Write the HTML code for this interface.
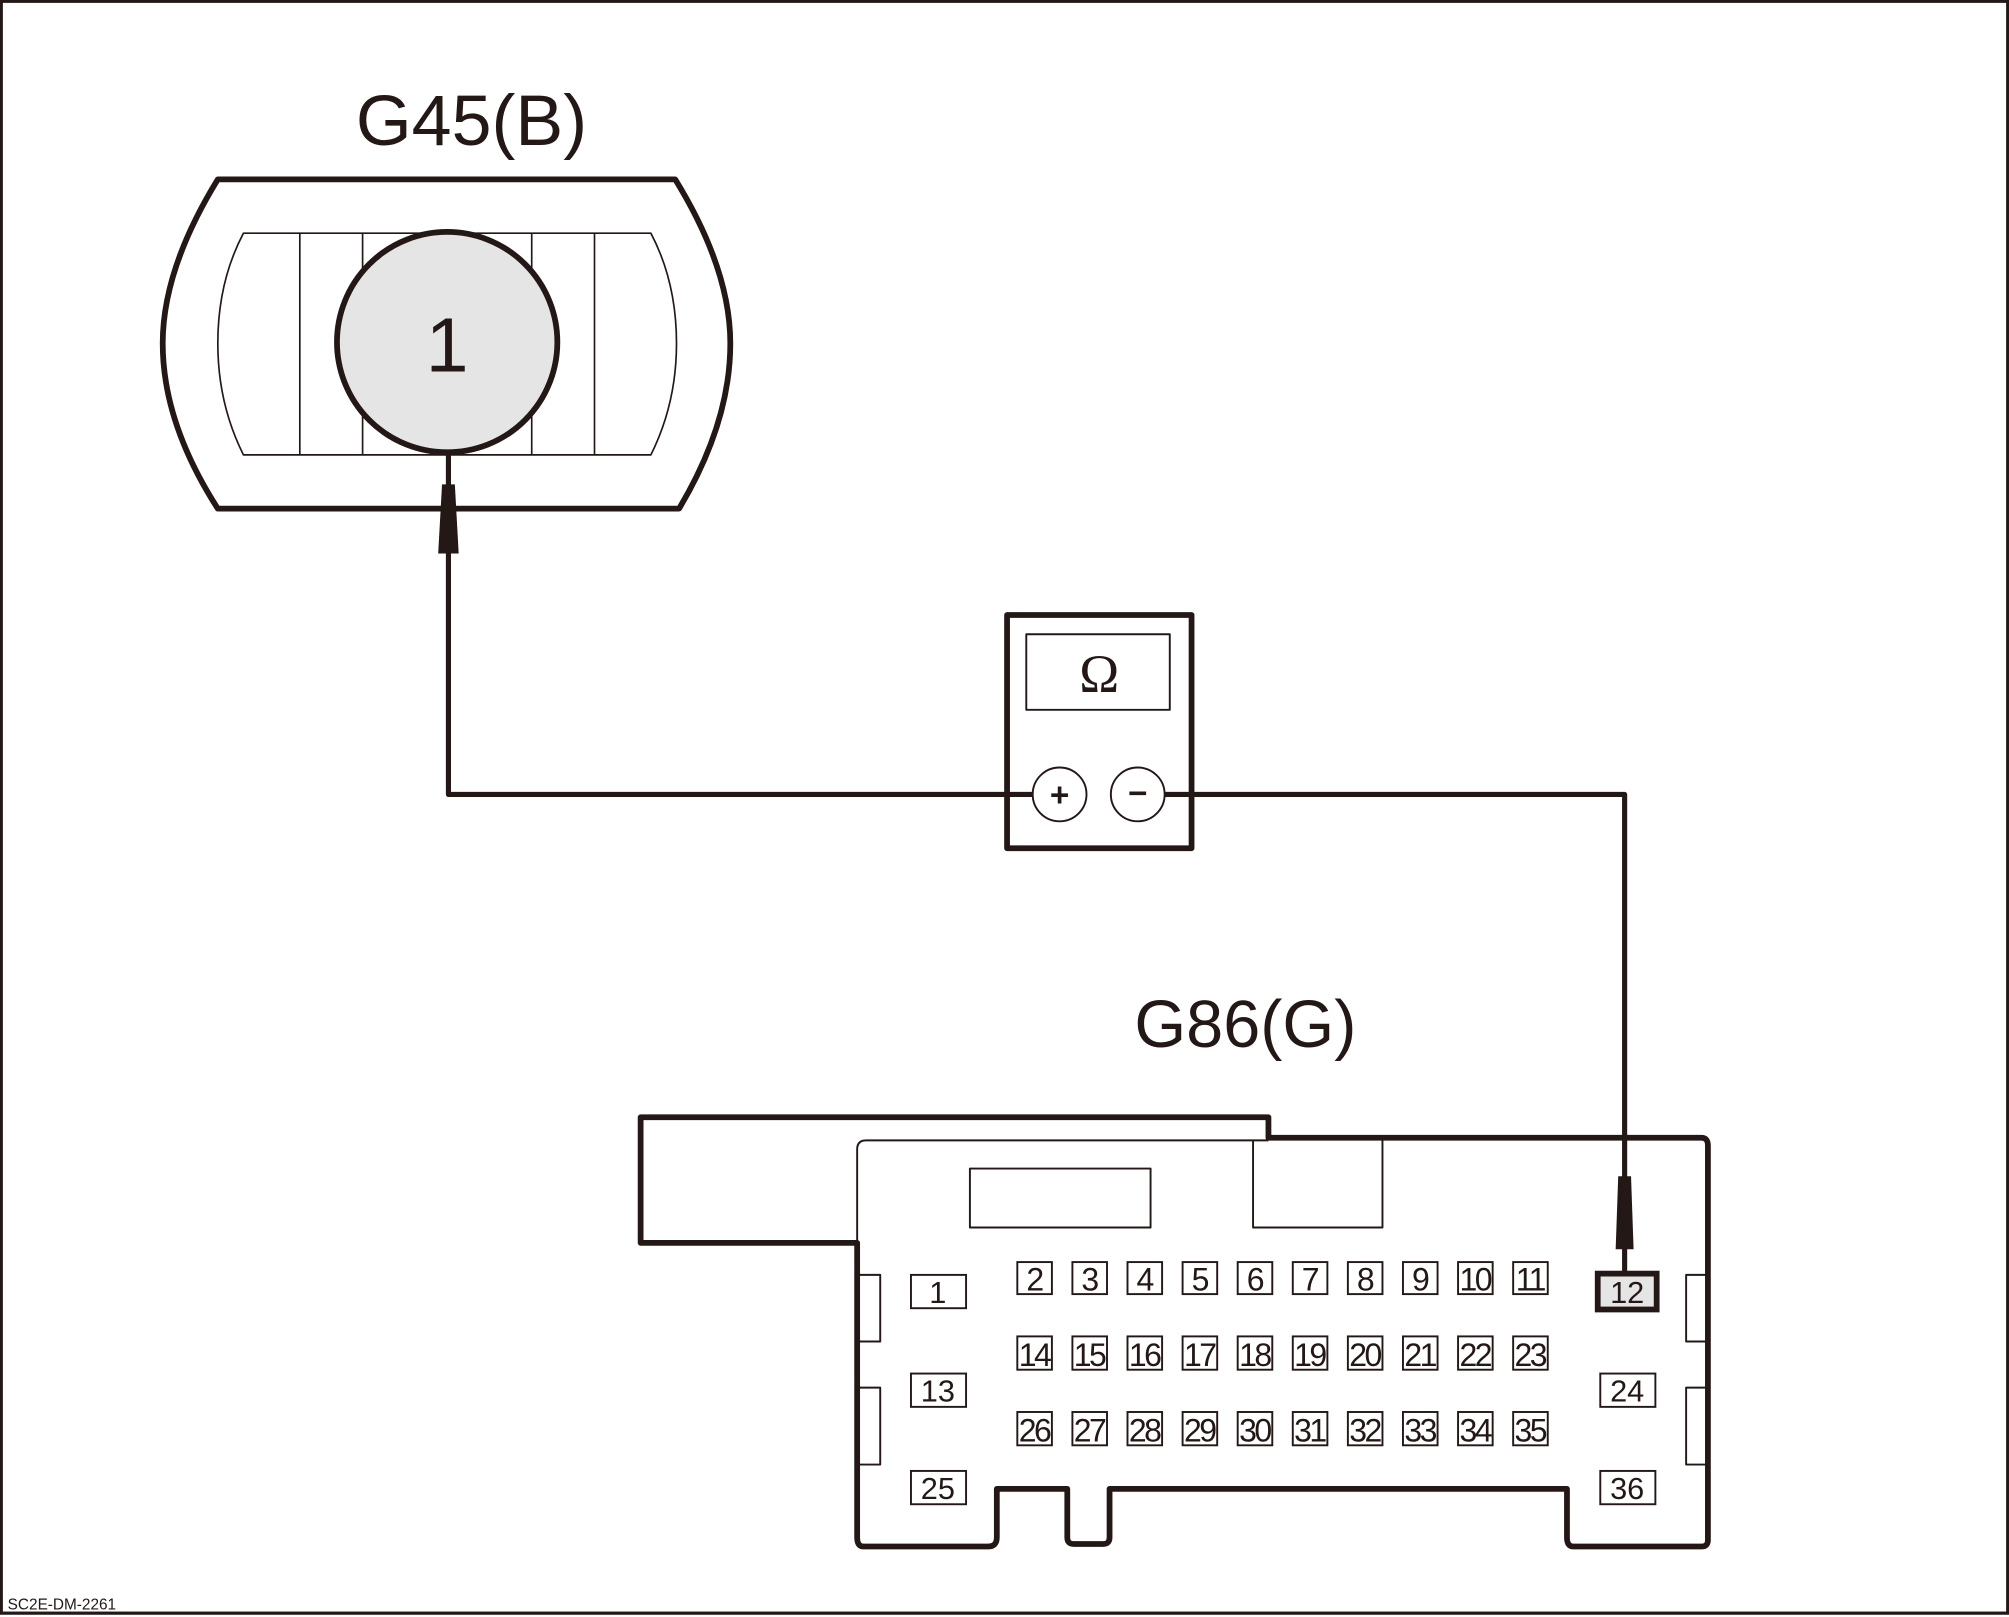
<!DOCTYPE html>
<html><head><style>html,body{margin:0;padding:0;background:#fff}svg{display:block}</style></head><body>
<svg width="2009" height="1617" viewBox="0 0 1568 1262" preserveAspectRatio="none" xmlns="http://www.w3.org/2000/svg" font-family="Liberation Sans, Arial, sans-serif">
<rect x="1" y="1" width="1566" height="1258" fill="#fff" stroke="#231815" stroke-width="2.5"/>
<g fill="none" stroke="#231815" stroke-linejoin="round">
<path d="M170,140 L527,140 Q570,210 570,268 Q570,330 530,397 L170,397 Q127,330 127,268 Q127,210 170,140 Z" stroke-width="4.5"/>
<path d="M190,182 L508,182 Q528,220 528,268 Q528,315 508,355 L190,355 Q170,315 170,268 Q170,220 190,182 Z" stroke-width="1.3"/>
<path d="M234,182V355M283,182V355M415,182V355M464,182V355" stroke-width="1.3"/>
<circle cx="349" cy="267" r="86" fill="#e5e5e5" stroke-width="4.5"/>
<path d="M350,353 V620 H806" stroke-width="4"/>
<rect x="786" y="480" width="144" height="182" stroke-width="4.5"/>
<rect x="801" y="495" width="112" height="59" stroke-width="1.5"/>
<circle cx="827" cy="620" r="21" fill="#fff" stroke-width="1.5"/>
<circle cx="888" cy="620" r="21" fill="#fff" stroke-width="1.5"/>
<path d="M909,620 H1268 V1000" stroke-width="4"/>
<path d="M500,872 H990 V888 H1328 Q1333,888 1333,894 V1202 Q1333,1207 1328,1207 H1228 Q1223,1207 1223,1200 V1162 H866 V1200 Q866,1205 861,1205 H838 Q833,1205 833,1200 V1162 H778 V1200 Q778,1207 771,1207 H674 Q669,1207 669,1200 V970 H500 Z" stroke-width="4.5"/>
<path d="M669,970 V897 Q669,890 676,890 H990" stroke-width="1.5"/>
<rect x="757" y="912" width="141" height="46" stroke-width="1.5"/>
<path d="M978,890 V958 H1079 V890" stroke-width="1.5"/>
<path d="M669,995 H687 V1047 H669 M669,1083 H687 V1143 H669 M1333,995 H1316 V1047 H1333 M1333,1083 H1316 V1143 H1333" stroke-width="1.5"/>
</g>
<g fill="#231815">
<polygon points="345,378 355,378 358,432 342,432"/>
<polygon points="1263,918 1273,918 1275,975 1261,975"/>
</g>
<text x="368" y="113" font-size="56" text-anchor="middle" fill="#231815">G45(B)</text>
<text x="972" y="817" font-size="52" text-anchor="middle" fill="#231815">G86(G)</text>
<text x="349" y="290" font-size="60" text-anchor="middle" fill="#231815">1</text>
<text x="858" y="540" font-size="42" text-anchor="middle" fill="#231815" font-family="Liberation Serif, serif">Ω</text>
<text x="827" y="629" font-size="26" font-weight="bold" text-anchor="middle" fill="#231815">+</text>
<text x="888" y="628" font-size="26" font-weight="bold" text-anchor="middle" fill="#231815">−</text>
<text x="6" y="1256" font-size="12" fill="#231815">SC2E-DM-2261</text>
<g fill="#fff" stroke="#231815" stroke-width="1.5">
<rect x="711" y="995" width="43" height="26"/>
<rect x="711" y="1072" width="43" height="26"/>
<rect x="711" y="1148" width="43" height="26"/>
<rect x="1249" y="1072" width="43" height="26"/>
<rect x="1249" y="1148" width="43" height="26"/>
<rect x="1247" y="994" width="46" height="28" fill="#e5e5e5" stroke-width="4.5"/>
</g>
<g font-size="24" text-anchor="middle" fill="#231815">
<text x="732" y="1017">1</text><text x="732" y="1094">13</text><text x="732" y="1170">25</text>
<text x="1270" y="1017">12</text><text x="1270" y="1094">24</text><text x="1270" y="1170">36</text>
</g>
<g fill="none" stroke="#231815" stroke-width="1.5">
<rect x="794" y="985" width="27" height="25"/><rect x="837" y="985" width="27" height="25"/><rect x="880" y="985" width="27" height="25"/><rect x="923" y="985" width="27" height="25"/><rect x="966" y="985" width="27" height="25"/><rect x="1009" y="985" width="27" height="25"/><rect x="1052" y="985" width="27" height="25"/><rect x="1095" y="985" width="27" height="25"/><rect x="1138" y="985" width="27" height="25"/><rect x="1181" y="985" width="27" height="25"/>
<rect x="794" y="1043" width="27" height="26"/><rect x="837" y="1043" width="27" height="26"/><rect x="880" y="1043" width="27" height="26"/><rect x="923" y="1043" width="27" height="26"/><rect x="966" y="1043" width="27" height="26"/><rect x="1009" y="1043" width="27" height="26"/><rect x="1052" y="1043" width="27" height="26"/><rect x="1095" y="1043" width="27" height="26"/><rect x="1138" y="1043" width="27" height="26"/><rect x="1181" y="1043" width="27" height="26"/>
<rect x="794" y="1102" width="27" height="26"/><rect x="837" y="1102" width="27" height="26"/><rect x="880" y="1102" width="27" height="26"/><rect x="923" y="1102" width="27" height="26"/><rect x="966" y="1102" width="27" height="26"/><rect x="1009" y="1102" width="27" height="26"/><rect x="1052" y="1102" width="27" height="26"/><rect x="1095" y="1102" width="27" height="26"/><rect x="1138" y="1102" width="27" height="26"/><rect x="1181" y="1102" width="27" height="26"/>
</g>
<g font-size="25" text-anchor="middle" fill="#231815" letter-spacing="-2">
<text x="807" y="1007">2</text><text x="850" y="1007">3</text><text x="893" y="1007">4</text><text x="936" y="1007">5</text><text x="979" y="1007">6</text><text x="1022" y="1007">7</text><text x="1065" y="1007">8</text><text x="1108" y="1007">9</text><text x="1151" y="1007">10</text><text x="1194" y="1007">11</text>
<text x="807" y="1066">14</text><text x="850" y="1066">15</text><text x="893" y="1066">16</text><text x="936" y="1066">17</text><text x="979" y="1066">18</text><text x="1022" y="1066">19</text><text x="1065" y="1066">20</text><text x="1108" y="1066">21</text><text x="1151" y="1066">22</text><text x="1194" y="1066">23</text>
<text x="807" y="1125">26</text><text x="850" y="1125">27</text><text x="893" y="1125">28</text><text x="936" y="1125">29</text><text x="979" y="1125">30</text><text x="1022" y="1125">31</text><text x="1065" y="1125">32</text><text x="1108" y="1125">33</text><text x="1151" y="1125">34</text><text x="1194" y="1125">35</text>
</g>
</svg>
</body></html>
